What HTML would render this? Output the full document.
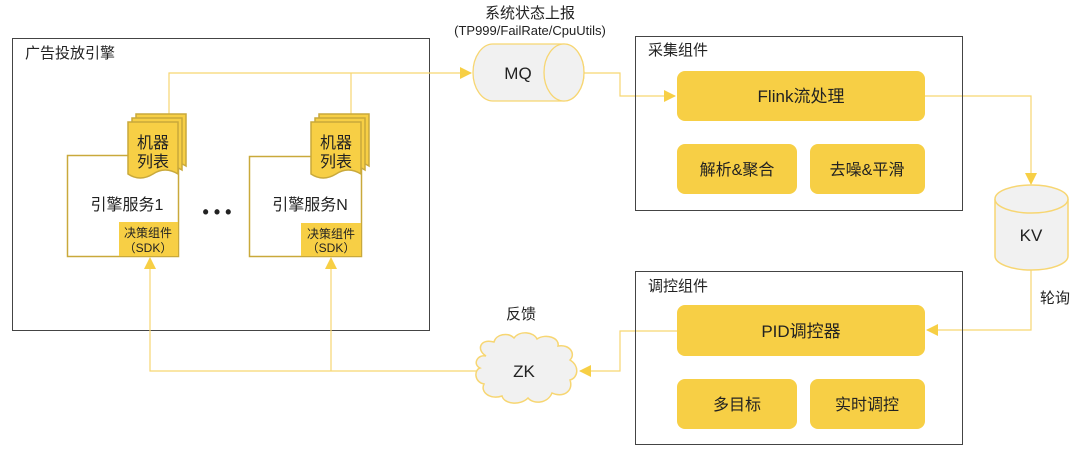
<!DOCTYPE html>
<html><head><meta charset="utf-8"><style>
html,body{margin:0;padding:0;background:#fff;}
svg{display:block;font-family:"Liberation Sans","Noto Sans CJK SC",sans-serif;}
</style></head><body>
<svg width="1080" height="452" viewBox="0 0 1080 452" xmlns="http://www.w3.org/2000/svg">
<defs>
<marker id="a" markerWidth="12" markerHeight="12" refX="11" refY="6" orient="auto" markerUnits="userSpaceOnUse"><path d="M0,0 L12,6 L0,12 z" fill="#f7cf45"/></marker>
<g id="doc">
<path d="M0,0 H50 V52 Q37,44 25,52 Q12,60 0,52 Z" fill="#f7cf45" stroke="#c9a93b" stroke-width="1.5"/>
</g>
</defs>
<rect x="0" y="0" width="1080" height="452" fill="#fff"/>

<rect x="12.5" y="38.5" width="417" height="292" fill="none" stroke="#444" stroke-width="1"/>
<text x="25" y="58" font-size="15" fill="#222">广告投放引擎</text>

<g fill="none" stroke="#f7d672" stroke-width="1.2">
<path d="M169,125 V73 H471" marker-end="url(#a)"/>
<path d="M351,125 V73"/>
<path d="M584,73 H620 V96 H675" marker-end="url(#a)"/>
<path d="M925,96 H1031 V184" marker-end="url(#a)"/>
<path d="M1031,270 V330 H927" marker-end="url(#a)"/>
<path d="M677,331 H620 V371 H580" marker-end="url(#a)"/>
<path d="M478,371 H150 V258" marker-end="url(#a)"/>
<path d="M331,371 V258" marker-end="url(#a)"/>
</g>

<rect x="67.5" y="155.5" width="111" height="101" fill="#fff" stroke="#c9a93b" stroke-width="1.5"/>
<use href="#doc" x="136" y="114"/>
<use href="#doc" x="132" y="118"/>
<use href="#doc" x="128" y="122"/>
<text x="153" y="148" font-size="16" text-anchor="middle" fill="#222">机器</text>
<text x="153" y="167" font-size="16" text-anchor="middle" fill="#222">列表</text>
<text x="127" y="210" font-size="16" text-anchor="middle" fill="#222">引擎服务1</text>
<rect x="119" y="222" width="59" height="34" fill="#f7cf45"/>
<text x="148" y="237" font-size="12" text-anchor="middle" fill="#222">决策组件</text>
<text x="148" y="252" font-size="12" text-anchor="middle" fill="#222">（SDK）</text>

<text x="217" y="218" font-size="18" text-anchor="middle" fill="#222" font-weight="bold">• • •</text>

<rect x="249.5" y="156.5" width="112" height="100" fill="#fff" stroke="#c9a93b" stroke-width="1.5"/>
<use href="#doc" x="319" y="114"/>
<use href="#doc" x="315" y="118"/>
<use href="#doc" x="311" y="122"/>
<text x="336" y="148" font-size="16" text-anchor="middle" fill="#222">机器</text>
<text x="336" y="167" font-size="16" text-anchor="middle" fill="#222">列表</text>
<text x="310" y="210" font-size="16" text-anchor="middle" fill="#222">引擎服务N</text>
<rect x="301" y="223" width="60" height="33" fill="#f7cf45"/>
<text x="331" y="238" font-size="12" text-anchor="middle" fill="#222">决策组件</text>
<text x="331" y="252" font-size="12" text-anchor="middle" fill="#222">（SDK）</text>

<text x="530" y="18" font-size="15" text-anchor="middle" fill="#222">系统状态上报</text>
<text x="530" y="35" font-size="13" text-anchor="middle" fill="#222">(TP999/FailRate/CpuUtils)</text>
<path d="M493,44 H564 A20,28.5 0 0 1 564,101 H493 A20,28.5 0 0 1 493,44 Z" fill="#f1f1f1" stroke="#f7d672" stroke-width="1.3"/>
<ellipse cx="564" cy="72.5" rx="20" ry="28.5" fill="#f1f1f1" stroke="#f7d672" stroke-width="1.3"/>
<text x="518" y="79" font-size="17" text-anchor="middle" fill="#222">MQ</text>

<rect x="635.5" y="36.5" width="327" height="174" fill="none" stroke="#444" stroke-width="1"/>
<text x="648" y="55" font-size="15" fill="#222">采集组件</text>
<rect x="677" y="71" width="248" height="50" rx="8" fill="#f7cf45"/>
<text x="801" y="102" font-size="17" text-anchor="middle" fill="#222">Flink流处理</text>
<rect x="677" y="144" width="120" height="50" rx="8" fill="#f7cf45"/>
<text x="737" y="175" font-size="16" text-anchor="middle" fill="#222">解析&amp;聚合</text>
<rect x="810" y="144" width="115" height="50" rx="8" fill="#f7cf45"/>
<text x="867" y="175" font-size="16" text-anchor="middle" fill="#222">去噪&amp;平滑</text>

<path d="M995,199 V256 A36.5,14 0 0 0 1068,256 V199" fill="#f1f1f1" stroke="#f7d672" stroke-width="1.5"/>
<ellipse cx="1031.5" cy="199" rx="36.5" ry="14" fill="#f1f1f1" stroke="#f7d672" stroke-width="1.5"/>
<text x="1031" y="241" font-size="17" text-anchor="middle" fill="#222">KV</text>
<text x="1055" y="303" font-size="15" text-anchor="middle" fill="#222">轮询</text>

<rect x="635.5" y="271.5" width="327" height="173" fill="none" stroke="#444" stroke-width="1"/>
<text x="648" y="291" font-size="15" fill="#222">调控组件</text>
<rect x="677" y="305" width="248" height="51" rx="8" fill="#f7cf45"/>
<text x="801" y="337" font-size="17" text-anchor="middle" fill="#222">PID调控器</text>
<rect x="677" y="379" width="120" height="50" rx="8" fill="#f7cf45"/>
<text x="737" y="410" font-size="16" text-anchor="middle" fill="#222">多目标</text>
<rect x="810" y="379" width="115" height="50" rx="8" fill="#f7cf45"/>
<text x="867" y="410" font-size="16" text-anchor="middle" fill="#222">实时调控</text>

<text x="521" y="319" font-size="15" text-anchor="middle" fill="#222">反馈</text>
<path d="M486,356 C476,350 480,338 494,342 C496,334 508,332 514,338 C520,330 534,332 537,339 C546,333 560,338 558,346 C570,344 576,354 570,360 C580,366 578,378 570,380 C574,392 562,398 552,393 C548,403 534,405 528,398 C520,406 504,404 502,396 C490,400 480,392 484,384 C474,382 474,370 480,368 C472,364 478,354 486,356 Z" fill="#f1f1f1" stroke="#f7d672" stroke-width="1.5"/>
<text x="524" y="377" font-size="17" text-anchor="middle" fill="#222">ZK</text>
</svg>
</body></html>
